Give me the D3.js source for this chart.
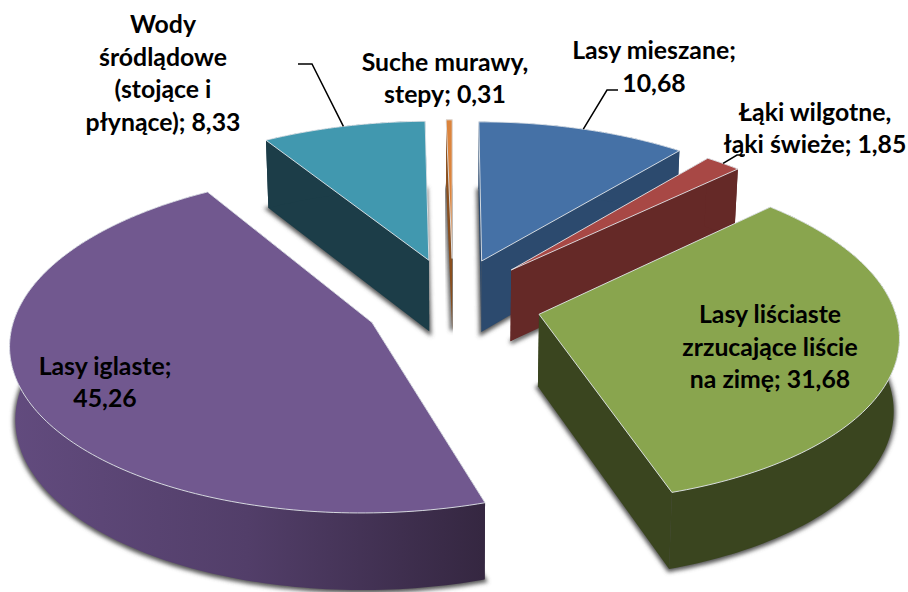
<!DOCTYPE html>
<html>
<head>
<meta charset="utf-8">
<style>
  html, body { margin: 0; background: #fff; }
  text { font-family: Lato, "Open Sans", sans-serif; font-weight: 700; font-size: 24.8px; fill: #000; }
</style>
<script src="https://cdn.jsdelivr.net/npm/d3@7"></script>
</head>
<body>
<div id="chart"></div>
<script>
const categories = [
  "Lasy mieszane",
  "Łąki wilgotne, łąki świeże",
  "Lasy liściaste zrzucające liście na zimę",
  "Lasy iglaste",
  "Wody śródlądowe (stojące i płynące)",
  "Suche murawy, stepy"
];
const values = [10.68, 1.85, 31.68, 45.26, 8.33, 0.31];
const valueLabels = ["10,68", "1,85", "31,68", "45,26", "8,33", "0,31"];
const topColors = ["#4571A6", "#A84845", "#89A54E", "#71588F", "#4198AF", "#DB843D"];
const wallColors = ["#2C4A6E", "#652927", "#3A451F", "url(#purpleWall)", "#1C3D48", "#8A4F1E"];

// label lines, the last one carries the value
const labelLines = [
  ["Lasy mieszane;", valueLabels[0]],
  ["Łąki wilgotne,", "łąki świeże; " + valueLabels[1]],
  ["Lasy liściaste", "zrzucające liście", "na zimę; " + valueLabels[2]],
  ["Lasy iglaste;", valueLabels[3]],
  ["Wody", "śródlądowe", "(stojące i", "płynące); " + valueLabels[4]],
  ["Suche murawy,", "stepy; " + valueLabels[5]]
];
const labelCenterX = [[654, 654], [815, 815], [770, 770, 770], [105, 105], [163, 163, 163, 163], [445, 445]];
const labelFirstBaseline = [59, 121, 323, 375, 33, 71];
const lineStep = [33, 32, 32.5, 32, 32.5, 32];

const width = 908, height = 592;
const wallHeight = 72;
const baseShrink = 0.987; // the base is a touch narrower than the top face
const explode = 0.28;   // how far slices are pulled from the middle (in radii of depth)
const perspective = 0.114;

const svg = d3.select("#chart").append("svg")
  .attr("width", width)
  .attr("height", height)
  .style("display", "block");

const defs = svg.append("defs");
const grad = defs.append("linearGradient")
  .attr("id", "purpleWall")
  .attr("gradientUnits", "userSpaceOnUse")
  .attr("x1", 12).attr("x2", 483).attr("y1", 0).attr("y2", 0);
grad.append("stop").attr("offset", 0).attr("stop-color", "#624B7E");
grad.append("stop").attr("offset", 0.5).attr("stop-color", "#523E69");
grad.append("stop").attr("offset", 1).attr("stop-color", "#352741");
defs.append("filter").attr("id", "soft")
  .attr("x", "-10%").attr("y", "-10%").attr("width", "120%").attr("height", "120%")
  .append("feGaussianBlur").attr("stdDeviation", 2);

// scales from the unit disc to the page
const xScale = d3.scaleLinear().domain([-1, 1]).range([453 - 354, 453 + 354]);
const yScale = d3.scaleLinear().domain([-1, 1]).range([303 - 164, 303 + 164]);

const pie = d3.pie().sort(null).value((d) => d).startAngle(0).endAngle(2 * Math.PI);
const slices = pie(values).map((d) => {
  d.mid = (d.startAngle + d.endAngle) / 2;
  return d;
});

// project a point of slice d on the disc, r 0..1, lifted "down" for the base
function project(d, angle, r, base) {
  const wx = explode * 0.888 * Math.sin(d.mid) + r * Math.sin(angle);
  const wz = -explode * Math.cos(d.mid) - r * Math.cos(angle);
  const s = 1 / (1 - perspective * wz);
  const k = base ? baseShrink : 1;
  return [xScale(wx * s * k), yScale(wz * s) + (base ? wallHeight * Math.sqrt(s) : 0)];
}

function arcPoints(d, base) {
  const n = Math.max(2, Math.ceil((d.endAngle - d.startAngle) / 0.02));
  return d3.range(n + 1).map((i) =>
    project(d, d.startAngle + ((d.endAngle - d.startAngle) * i) / n, 1, base)
  );
}

const line = d3.line().curve(d3.curveLinear);
const closed = (pts) => line(pts) + "Z";

const order = slices.slice().sort((a, b) => Math.cos(b.mid) - Math.cos(a.mid));

// bottom shadows first, they sit behind everything
svg.append("g").selectAll("path")
  .data(order)
  .join("path")
  .attr("d", (d) => closed([project(d, 0, 0, true)].concat(arcPoints(d, true))))
  .attr("fill", "#555")
  .attr("stroke", "#555")
  .attr("stroke-width", 4)
  .attr("transform", "translate(0,1)")
  .attr("filter", "url(#soft)");

const group = svg.append("g").selectAll("g")
  .data(order)
  .join("g");

// radial walls
group.selectAll("path.side")
  .data((d) => [d.startAngle, d.endAngle].map((a) => ({ d: d, a: a })))
  .join("path")
  .attr("class", "side")
  .attr("d", (e) => closed([
    project(e.d, 0, 0, false),
    project(e.d, e.a, 1, false),
    project(e.d, e.a, 1, true),
    project(e.d, 0, 0, true)
  ]))
  .attr("fill", (e) => wallColors[e.d.index]);

// outer wall
group.append("path")
  .attr("d", (d) => closed(arcPoints(d, false).concat(arcPoints(d, true).reverse())))
  .attr("fill", (d) => wallColors[d.index]);

// top face
group.append("path")
  .attr("d", (d) => closed([project(d, 0, 0, false)].concat(arcPoints(d, false))))
  .attr("fill", (d) => topColors[d.index])
  .attr("stroke", "#E3E8EC")
  .attr("stroke-width", 0.9)
  .attr("stroke-linejoin", "round");

// leader lines for the labels that sit outside the pie
const leaders = [
  { index: 4, points: [[312, 64], [298, 64]] },
  { index: 0, points: [[607, 90], [618, 90]] },
  { index: 1, points: [[737, 155], [745, 155]] }
];
svg.append("g").selectAll("path")
  .data(leaders)
  .join("path")
  .attr("d", (l) => {
    const d = slices[l.index];
    return line([project(d, d.mid, 1, false)].concat(l.points));
  })
  .attr("fill", "none")
  .attr("stroke", "#000")
  .attr("stroke-width", 1.5);

// labels
const labels = svg.append("g").selectAll("text")
  .data(categories)
  .join("text")
  .attr("text-anchor", "middle");
labels.selectAll("tspan")
  .data((c, i) => labelLines[i].map((t, j) => ({ t: t, i: i, j: j })))
  .join("tspan")
  .attr("x", (l) => labelCenterX[l.i][l.j])
  .attr("y", (l) => labelFirstBaseline[l.i] + l.j * lineStep[l.i])
  .text((l) => l.t);
</script>
</body>
</html>
